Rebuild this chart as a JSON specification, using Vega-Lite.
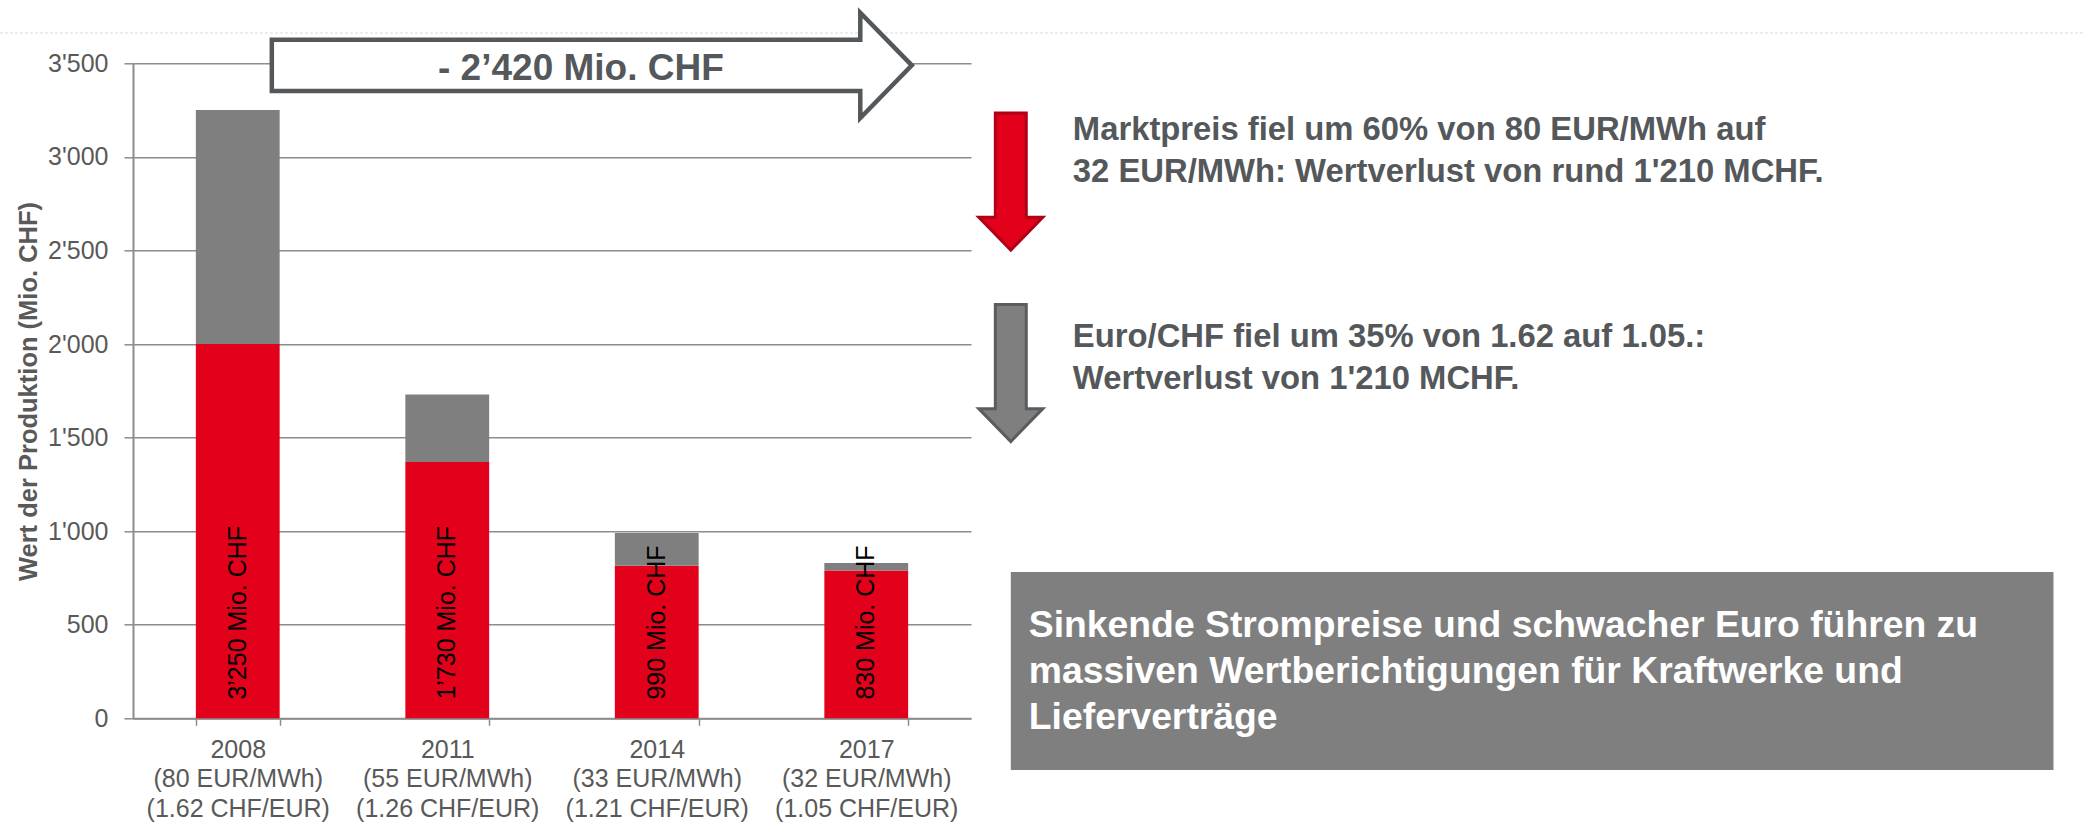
{
  "$schema": "https://vega.github.io/schema/vega-lite/v6.json",
  "autosize": {"type": "none"},
  "padding": {"left": 133, "top": 63.3, "right": 1114, "bottom": 106.7},
  "width": 838,
  "height": 655,
  "background": "white",
  "config": {
    "font": "Liberation Sans, Arial, sans-serif",
    "view": {"stroke": null}
  },
  "data": {
    "values": [
      {"kategorie": "2008|(80 EUR/MWh)|(1.62 CHF/EUR)", "rot": 2000, "gesamt": 3250, "beschriftung": "3’250 Mio. CHF"},
      {"kategorie": "2011|(55 EUR/MWh)|(1.26 CHF/EUR)", "rot": 1370, "gesamt": 1730, "beschriftung": "1’730 Mio. CHF"},
      {"kategorie": "2014|(33 EUR/MWh)|(1.21 CHF/EUR)", "rot": 815, "gesamt": 990, "beschriftung": "990 Mio. CHF"},
      {"kategorie": "2017|(32 EUR/MWh)|(1.05 CHF/EUR)", "rot": 790, "gesamt": 830, "beschriftung": "830  Mio. CHF"}
    ]
  },
  "resolve": {"scale": {"x": "independent", "y": "independent"}, "axis": {"x": "independent", "y": "independent"}},
  "layer": [
    {
      "encoding": {
        "x": {
          "field": "kategorie", "type": "nominal", "sort": null,
          "scale": {"paddingInner": 0.6, "paddingOuter": 0.3},
          "axis": {
            "title": null, "labelAngle": 0,
            "labelExpr": "isString(datum.value) ? split(datum.value, '|') : ''",
            "labelFontSize": 25, "labelColor": "#595959", "labelLineHeight": 29.5, "labelLimit": 1000,
            "labelBaseline": "top", "labelPadding": 12,
            "tickSize": 7, "tickColor": "#8c8c8c", "tickWidth": 1.5, "tickBand": "extent",
            "domainColor": "#8c8c8c", "domainWidth": 2, "grid": false
          }
        }
      },
      "layer": [
        {
          "mark": {"type": "bar", "color": "#e2001a"},
          "encoding": {
            "y": {
              "field": "rot", "type": "quantitative",
              "scale": {"domain": [0, 3500], "nice": false},
              "axis": {
                "values": [0, 500, 1000, 1500, 2000, 2500, 3000, 3500],
                "labelExpr": "replace(format(datum.value, ','), ',', \"'\")",
                "labelFontSize": 25, "labelColor": "#595959", "labelPadding": 16,
                "tickSize": 9, "tickColor": "#8c8c8c", "tickWidth": 1.5,
                "domainColor": "#8c8c8c", "domainWidth": 2,
                "grid": true, "gridColor": "#8c8c8c", "gridWidth": 1.5,
                "title": "Wert der Produktion (Mio. CHF)",
                "titleFontSize": 25.5, "titleFontWeight": "bold", "titleColor": "#595959",
                "titleAngle": 270, "titleX": -97, "titleY": 327.7,
                "titleAlign": "center", "titleBaseline": "alphabetic"
              }
            }
          }
        },
        {
          "mark": {"type": "bar", "color": "#7f7f80"},
          "encoding": {
            "y": {"field": "rot", "type": "quantitative"},
            "y2": {"field": "gesamt"}
          }
        },
        {
          "mark": {"type": "text", "angle": 270, "align": "left", "baseline": "middle", "fontSize": 25, "color": "#000000"},
          "encoding": {
            "y": {"datum": 100, "type": "quantitative"},
            "text": {"field": "beschriftung"}
          }
        }
      ]
    },
    {
      "data": {"values": [{}]},
      "layer": [
        {
          "mark": {"type": "rule", "color": "#d9d9d9", "strokeWidth": 1, "strokeDash": [3, 2]},
          "encoding": {
            "x": {"datum": -0.635, "type": "quantitative", "scale": {"domain": [0, 4], "nice": false, "zero": false}, "axis": null},
            "x2": {"datum": 9.315},
            "y": {"datum": 3662, "type": "quantitative", "scale": {"domain": [0, 3500], "nice": false}, "axis": null}
          }
        },
        {
          "mark": {
            "type": "point", "filled": true, "fill": "#ffffff", "stroke": "#54585b", "strokeWidth": 4.5,
            "opacity": 1, "fillOpacity": 1, "strokeOpacity": 1, "size": 409600,
            "shape": "M-1,-0.08L0.839,-0.08L0.839,-0.1645L1,0L0.839,0.1645L0.839,0.08L-1,0.08Z"
          },
          "encoding": {
            "x": {"datum": 2.19, "type": "quantitative", "scale": {"domain": [0, 4], "nice": false, "zero": false}, "axis": null},
            "y": {"datum": 3489, "type": "quantitative", "scale": {"domain": [0, 3500], "nice": false}, "axis": null}
          }
        },
        {
          "mark": {"type": "text", "text": "- 2’420 Mio. CHF", "fontSize": 37, "fontWeight": "bold", "color": "#54585b", "align": "center", "baseline": "alphabetic"},
          "encoding": {
            "x": {"datum": 2.138, "type": "quantitative", "scale": {"domain": [0, 4], "nice": false, "zero": false}, "axis": null},
            "y": {"datum": 3411, "type": "quantitative", "scale": {"domain": [0, 3500], "nice": false}, "axis": null}
          }
        },
        {
          "mark": {
            "type": "point", "filled": true, "fill": "#e2001a", "stroke": "#b00018", "strokeWidth": 3,
            "opacity": 1, "fillOpacity": 1, "strokeOpacity": 1, "size": 18769,
            "shape": "M-0.226,-1L0.226,-1L0.226,0.52L0.467,0.52L0,1L-0.467,0.52L-0.226,0.52Z"
          },
          "encoding": {
            "x": {"datum": 4.19, "type": "quantitative", "scale": {"domain": [0, 4], "nice": false, "zero": false}, "axis": null},
            "y": {"datum": 2868, "type": "quantitative", "scale": {"domain": [0, 3500], "nice": false}, "axis": null}
          }
        },
        {
          "mark": {
            "type": "point", "filled": true, "fill": "#7f7f80", "stroke": "#5a5d60", "strokeWidth": 3,
            "opacity": 1, "fillOpacity": 1, "strokeOpacity": 1, "size": 18769,
            "shape": "M-0.226,-1L0.226,-1L0.226,0.52L0.467,0.52L0,1L-0.467,0.52L-0.226,0.52Z"
          },
          "encoding": {
            "x": {"datum": 4.19, "type": "quantitative", "scale": {"domain": [0, 4], "nice": false, "zero": false}, "axis": null},
            "y": {"datum": 1845, "type": "quantitative", "scale": {"domain": [0, 3500], "nice": false}, "axis": null}
          }
        },
        {
          "mark": {"type": "text", "fontSize": 32.8, "fontWeight": "bold", "color": "#54585b", "align": "left", "baseline": "alphabetic", "lineHeight": 42},
          "encoding": {
            "x": {"datum": 4.486, "type": "quantitative", "scale": {"domain": [0, 4], "nice": false, "zero": false}, "axis": null},
            "y": {"datum": 3092, "type": "quantitative", "scale": {"domain": [0, 3500], "nice": false}, "axis": null},
            "text": {"value": ["Marktpreis fiel um 60% von 80 EUR/MWh auf", "32 EUR/MWh: Wertverlust von rund 1'210 MCHF."]}
          }
        },
        {
          "mark": {"type": "text", "fontSize": 32.8, "fontWeight": "bold", "color": "#54585b", "align": "left", "baseline": "alphabetic", "lineHeight": 42},
          "encoding": {
            "x": {"datum": 4.486, "type": "quantitative", "scale": {"domain": [0, 4], "nice": false, "zero": false}, "axis": null},
            "y": {"datum": 1984, "type": "quantitative", "scale": {"domain": [0, 3500], "nice": false}, "axis": null},
            "text": {"value": ["Euro/CHF fiel um 35% von 1.62 auf 1.05.:", "Wertverlust von 1'210 MCHF."]}
          }
        },
        {
          "mark": {"type": "rect", "color": "#7f7f80"},
          "encoding": {
            "x": {"datum": 4.19, "type": "quantitative", "scale": {"domain": [0, 4], "nice": false, "zero": false}, "axis": null},
            "x2": {"datum": 9.167},
            "y": {"datum": 782, "type": "quantitative", "scale": {"domain": [0, 3500], "nice": false}, "axis": null},
            "y2": {"datum": -276}
          }
        },
        {
          "mark": {"type": "text", "fontSize": 37.3, "fontWeight": "bold", "color": "#ffffff", "align": "left", "baseline": "alphabetic", "lineHeight": 46},
          "encoding": {
            "x": {"datum": 4.276, "type": "quantitative", "scale": {"domain": [0, 4], "nice": false, "zero": false}, "axis": null},
            "y": {"datum": 434, "type": "quantitative", "scale": {"domain": [0, 3500], "nice": false}, "axis": null},
            "text": {"value": ["Sinkende Strompreise und schwacher Euro führen zu", "massiven Wertberichtigungen für Kraftwerke und", "Lieferverträge"]}
          }
        }
      ]
    }
  ]
}
